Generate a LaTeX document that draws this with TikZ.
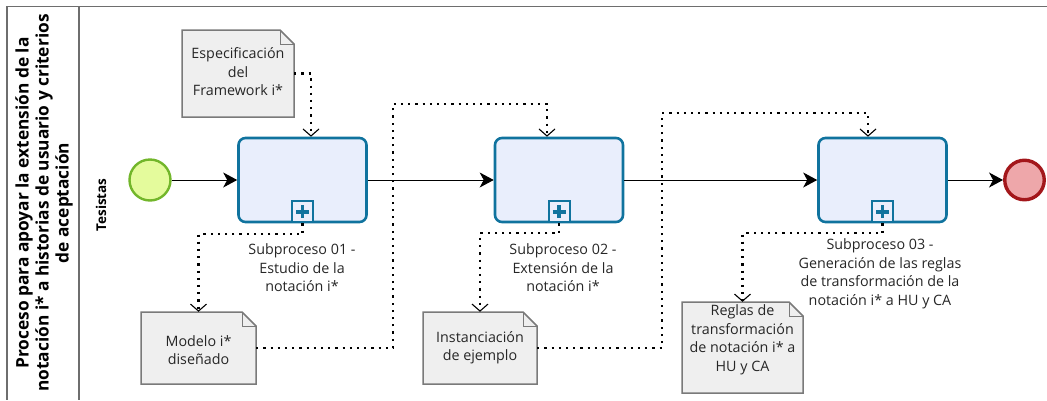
\documentclass[tikz,border=0pt]{standalone}
\usepackage{fontspec}
\setmainfont{Open Sans}
\usetikzlibrary{arrows.meta,calc}

\definecolor{taskline}{HTML}{10739E}
\definecolor{taskfill}{HTML}{E9EEFC}
\definecolor{docfill}{HTML}{EFEFEF}
\definecolor{docline}{HTML}{7A7A7A}
\definecolor{startfill}{HTML}{E4FB9C}
\definecolor{startline}{HTML}{72B62A}
\definecolor{endfill}{HTML}{EEA7AA}
\definecolor{endline}{HTML}{A3171B}
\definecolor{poolline}{HTML}{6E6E6E}
\definecolor{txt}{HTML}{262626}

% data object: folded sheet plus an anchor node and a text node
% #1 name, #2 x1, #3 y1, #4 x2, #5 y2, #6 text centre y, #7 text
\newcommand\dataobject[7]{%
  \draw[docshape] (#2,#3) -- (#4-14,#3) -- (#4,#3+14) -- (#4,#5) -- (#2,#5) -- cycle;
  \draw[docline, line width=1pt] (#4-14,#3) -- (#4-14,#3+14) -- (#4,#3+14);
  \node[inner sep=0pt, minimum width={#4-#2}, minimum height={#5-#3}] (#1) at ({(#2+#4)/2},{(#3+#5)/2}) {};
  \node[doctext] (#1-text) at ({(#2+#4)/2},#6) {#7};
}

\begin{document}
\begin{tikzpicture}[x=1pt,y=-1pt,
  txtfont/.style={font=\fontsize{14.3}{18.5}\selectfont, text=txt},
  task/.style={draw=taskline, fill=taskfill, line width=2.6pt, rounded corners=7pt,
    minimum width=128pt, minimum height=84pt, inner sep=0pt},
  marker/.style={draw=taskline, fill=taskfill, line width=2pt, minimum size=21pt, inner sep=0pt},
  plusbar/.style={draw=taskline, line width=3.6pt},
  startev/.style={circle, draw=startline, fill=startfill, line width=2.4pt, minimum size=41pt, inner sep=0pt},
  endev/.style={circle, draw=endline, fill=endfill, line width=3.4pt, minimum size=39.5pt, inner sep=0pt},
  seq/.style={draw=black, line width=1pt, -{Stealth[length=14pt,width=15pt,inset=4pt]}},
  assoc/.style={draw=black, line width=2.2pt, dash pattern=on 2.2pt off 5pt,
    -{Straight Barb[length=7pt,width=16pt,line width=1.1pt]}},
  docshape/.style={draw=docline, fill=docfill, line width=1.5pt, line join=miter},
  doctext/.style={txtfont, align=center, inner sep=0pt},
  lbl/.style={txtfont, align=center, inner sep=0pt},
  pool/.style={draw=poolline, line width=1.5pt},
]
\useasboundingbox (0,0) rectangle (1047,400);
\clip (0,0) rectangle (1047,400);

% pool frame
\draw[pool] (1047,6.5) -- (7,6.5) -- (7,400);
\draw[pool] (79,6.5) -- (79,400);
\node[rotate=90, align=center, inner sep=0pt, font=\bfseries\fontsize{17.3}{20}\selectfont] (pooltitle) at (44,203)
  {Proceso para apoyar la extensión de la\\notación i* a historias de usuario y criterios\\de aceptación};
\node[rotate=90, inner sep=0pt, font=\bfseries\fontsize{13.5}{14}\selectfont] (lanetitle) at (101,205) {Tesistas};

% events and sub-processes
\node[startev] (start) at (150,180) {};
\node[task] (t1) at (302.5,180) {};
\node[task] (t2) at (559,180) {};
\node[task] (t3) at (882.5,180) {};
\node[endev] (end) at (1024.5,180) {};

% collapsed sub-process markers
\foreach \t in {t1,t2,t3}{
  \node[marker, anchor=south] (\t-mark) at (\t.south) {};
  \draw[plusbar] ($(\t-mark.center)+(-6.5,0)$) -- ($(\t-mark.center)+(6.5,0)$);
  \draw[plusbar] ($(\t-mark.center)+(0,-6.5)$) -- ($(\t-mark.center)+(0,6.5)$);
}

% sequence flow
\draw[seq] (start) -- (t1);
\draw[seq] (t1) -- (t2);
\draw[seq] (t2) -- (t3);
\draw[seq] (t3) -- (end);

% sub-process labels
\node[lbl] (t1-label) at (302,268) {Subproceso 01 -\\Estudio de la\\notación i*};
\node[lbl] (t2-label) at (563,268) {Subproceso 02 -\\Extensión de la\\notación i*};
\node[lbl] (t3-label) at (880,274) {Subproceso 03 -\\Generación de las reglas\\de transformación de la\\notación i* a HU y CA};

% data objects
\dataobject{d1}{182}{30}{294}{117}{72}{Especificación\\del\\Framework i*}
\dataobject{d2}{141}{312}{256}{384}{350}{Modelo i*\\diseñado}
\dataobject{d3}{423}{312}{537}{384}{347.5}{Instanciación\\de ejemplo}
\dataobject{d4}{682}{302}{803}{393}{340}{Reglas de\\transformación\\de notación i* a\\HU y CA}

% data associations
\draw[assoc] (d1.east) -| ([xshift=8.5pt]t1.north);
\draw[assoc] (t1.south) -- ++(0,11) -| (d2.north);
\draw[assoc] (d2.east) -| (393,104) -| ([xshift=-12pt]t2.north);
\draw[assoc] (t2.south) -- ++(0,10) -| (d3.north);
\draw[assoc] (d3.east) -| (662,113) -| ([xshift=-14.5pt]t3.north);
\draw[assoc] (t3.south) -- ++(0,10) -| (d4.north);
\end{tikzpicture}
\end{document}
